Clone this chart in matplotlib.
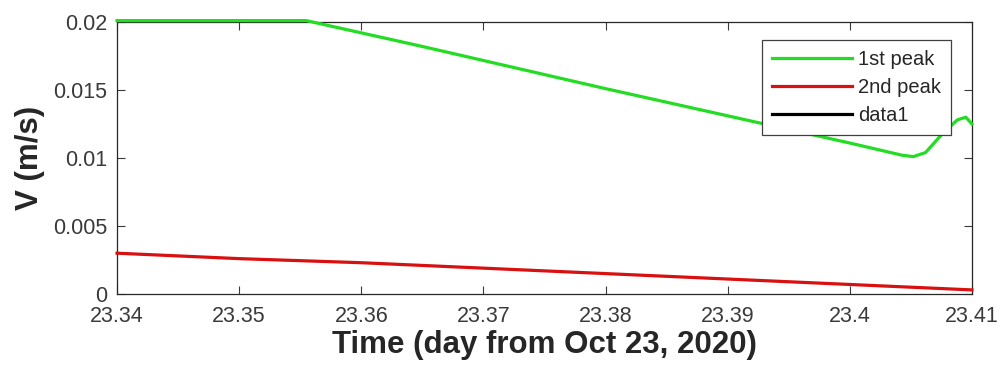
import matplotlib
matplotlib.use("Agg")
import matplotlib.pyplot as plt

# Peak velocity series (time in days from Oct 23, 2020)
t_first = [23.34, 23.3555, 23.365, 23.38, 23.39, 23.40, 23.4043, 23.4052,
           23.4062, 23.4075, 23.4088, 23.4095, 23.41]
v_first = [0.0201, 0.0201, 0.0182, 0.0151, 0.0131, 0.0111, 0.0102, 0.0101,
           0.0104, 0.0117, 0.0128, 0.0130, 0.0125]

t_second = [23.34, 23.35, 23.36, 23.37, 23.38, 23.39, 23.40, 23.41]
v_second = [0.0030, 0.0026, 0.0023, 0.0019, 0.0015, 0.0011, 0.0007, 0.0003]

x_ticks = [23.34, 23.35, 23.36, 23.37, 23.38, 23.39, 23.40, 23.41]
x_tick_labels = ["23.34", "23.35", "23.36", "23.37", "23.38", "23.39", "23.4", "23.41"]
y_ticks = [0, 0.005, 0.01, 0.015, 0.02]
y_tick_labels = ["0", "0.005", "0.01", "0.015", "0.02"]

plt.rcParams["font.family"] = ["Liberation Sans", "DejaVu Sans"]

fig = plt.figure(figsize=(10.02, 3.72), dpi=100)
ax = fig.add_axes([0.1168, 0.2097, 0.8532, 0.7312])

ax.plot(t_first, v_first, color="#22dd22", lw=2.3, label="1st peak", clip_on=False, zorder=3)
ax.plot(t_second, v_second, color="#d81010", lw=2.3, label="2nd peak", clip_on=False, zorder=3)
ax.plot([], [], color="black", lw=2.3, label="data1")

ax.set_xlim(23.34, 23.41)
ax.set_ylim(0, 0.02)
ax.set_xticks(x_ticks)
ax.set_xticklabels(x_tick_labels)
ax.set_yticks(y_ticks)
ax.set_yticklabels(y_tick_labels)

ax.tick_params(direction="in", top=True, right=True, labelsize=15.5,
               colors="#3a3a3a", length=6, width=0.8)
ax.tick_params(axis="x", pad=8.5)
ax.tick_params(axis="y", pad=7)
for s in ax.spines.values():
    s.set_color("#262626")
    s.set_linewidth(0.9)

ax.set_xlabel("Time (day from Oct 23, 2020)", fontsize=22.5, fontweight="bold",
              color="#262626", labelpad=2)
ax.set_ylabel("V (m/s)", fontsize=22.5, fontweight="bold", color="#262626", labelpad=6)

leg = ax.legend(loc="upper left", bbox_to_anchor=(0.754, 0.934), fontsize=14.5,
                frameon=True, fancybox=False, edgecolor="#404040", framealpha=1,
                handlelength=4.0, handletextpad=0.3, borderpad=0.5,
                labelspacing=0.45, borderaxespad=0)
leg.set_zorder(5)
leg.get_frame().set_linewidth(0.9)
for txt in leg.get_texts():
    txt.set_color("#262626")

fig.savefig("out.png", dpi=100)
